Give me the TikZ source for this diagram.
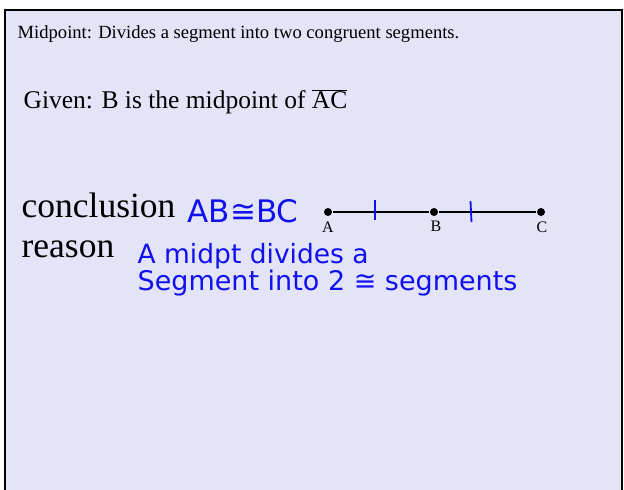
\documentclass[tikz,border=0pt]{standalone}
\usepackage{fontspec}
\setmainfont{Liberation Serif}
\newfontfamily\handfont{DejaVu Sans}
\definecolor{slide}{RGB}{227,228,248}
\definecolor{ink}{RGB}{16,16,240}
\tikzset{
  txt/.style={anchor=base west,inner sep=0pt},
  hand/.style={txt,text=ink,font=\handfont\fontsize{26.5}{26.5}\selectfont},
  dot/.style={circle,fill=black,inner sep=0pt,minimum size=8pt},
  lbl/.style={anchor=base,inner sep=0pt,font=\fontsize{16}{16}\selectfont},
  tick/.style={draw=ink,line width=1.8pt}
}
\begin{document}
\begin{tikzpicture}[x=1pt,y=-1pt,line width=1.3pt]
\useasboundingbox (0,0) rectangle (624,490);
\clip (0,0) rectangle (624,490);
\fill[white] (0,0) rectangle (624,490);
\filldraw[fill=slide,draw=black,line width=2pt] (4.5,10) rectangle (622,500);
% printed text
\node[txt,font=\fontsize{18.6}{18.6}\selectfont] (title) at (17,38) {Midpoint: Divides a segment into two congruent segments.};
\node[txt,font=\fontsize{25.5}{25.5}\selectfont] (given) at (23,108) {Given: B is the midpoint of $\overline{\hbox{AC}}$};
\node[txt,font=\fontsize{35.5}{35.5}\selectfont] (concl) at (21,217) {conclusion};
\node[txt,font=\fontsize{35.5}{35.5}\selectfont] (reason) at (21,257) {reason};
% handwriting
\node[hand,font=\handfont\fontsize{31}{31}\selectfont] (claim) at (187,222) {AB≅BC};
\node[hand] (why1) at (137,263) {A midpt divides a};
\node[hand,font=\handfont\fontsize{27}{27}\selectfont] (why2) at (137,290) {Segment into 2 ≅ segments};
% segment AC
\node[dot] (A) at (328,212) {};
\node[dot] (B) at (434,212) {};
\node[dot] (C) at (541,212) {};
\draw (A) -- (B) -- (C);
\node[lbl] (la) at (328,232) {A};
\node[lbl] (lb) at (436,231) {B};
\node[lbl] (lc) at (542,232) {C};
\draw[tick] (375,200) -- (375,220);
\draw[tick] (470.5,201) -- (471.5,222);
\end{tikzpicture}
\end{document}
